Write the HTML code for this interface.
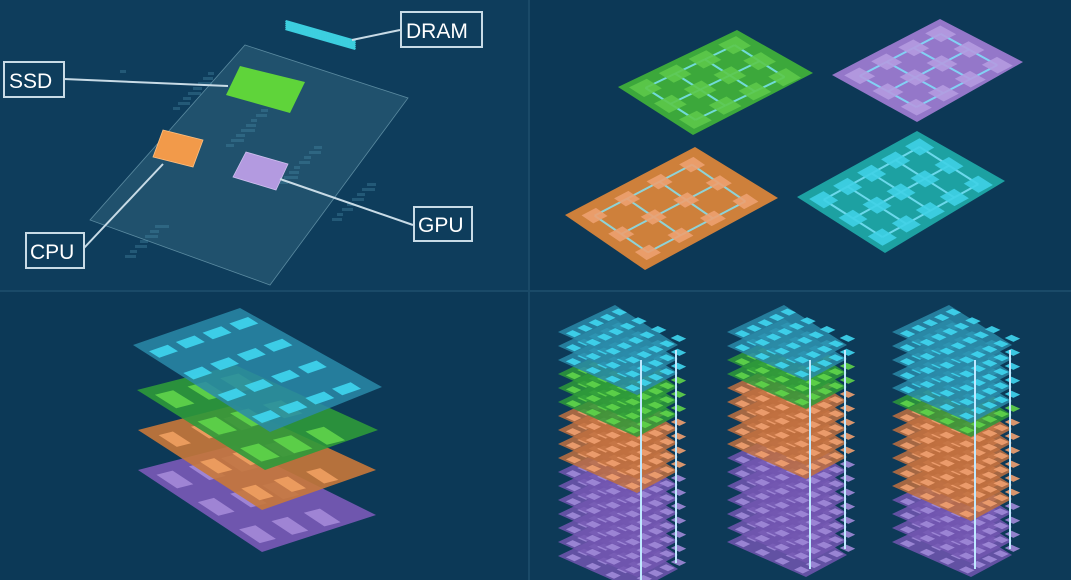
<!DOCTYPE html>
<html><head><meta charset="utf-8"><style>
html,body{margin:0;padding:0;background:#0d3a58;}
svg{display:block}
text{font-family:"Liberation Sans",sans-serif;}
</style></head><body>
<svg id="s" width="1071" height="580" viewBox="0 0 1071 580" xmlns="http://www.w3.org/2000/svg">
<rect width="1071" height="580" fill="#0d3a58"/>
<rect x="0" y="0" width="528" height="290" fill="#0e3d5c"/>
<rect x="530" y="0" width="541" height="290" fill="#0c3856"/>
<rect x="0" y="292" width="528" height="288" fill="#0c3957"/>
<rect x="530" y="292" width="541" height="288" fill="#0d3a58"/>
<line x1="529" y1="0" x2="529" y2="580" stroke="#1a4a68" stroke-width="2"/>
<line x1="0" y1="291" x2="1071" y2="291" stroke="#1a4a68" stroke-width="2"/>
<g id="g"></g>
<g fill="none" stroke="#c8dbe6" stroke-width="2">
<line x1="400" y1="30" x2="352" y2="40"/>
<line x1="64" y1="79" x2="228" y2="86"/>
<line x1="84" y1="248" x2="163" y2="164"/>
<line x1="413" y1="225" x2="280" y2="179"/>
<rect x="401" y="12" width="81" height="35" fill="#0e3d5c"/>
<rect x="4" y="62" width="60" height="35" fill="#0e3d5c"/>
<rect x="26" y="233" width="58" height="35" fill="#0e3d5c"/>
<rect x="414" y="207" width="58" height="34" fill="#0e3d5c"/>
</g>
<g fill="#ffffff" font-size="21">
<text x="406" y="38">DRAM</text>
<text x="9" y="88">SSD</text>
<text x="30" y="259">CPU</text>
<text x="418" y="232">GPU</text>
</g>
</svg>
<script>
const g=document.getElementById('g');let h='';
function poly(pts,fill,op,stroke){h+=`<polygon points="${pts.map(p=>p[0].toFixed(1)+','+p[1].toFixed(1)).join(' ')}" fill="${fill}" fill-opacity="${op}"${stroke?` stroke="${stroke}" stroke-width="0.8"`:''}/>`;}
function P(L,T,B,u,v){return [L[0]+u*(T[0]-L[0])+v*(B[0]-L[0]),L[1]+u*(T[1]-L[1])+v*(B[1]-L[1])];}
function board(L,T,R,B,fill,op,chip,nu,nv,cs,lines){
 poly([L,T,R,B],fill,op);
 if(lines){for(let i=0;i<nu;i++)for(let j=0;j<nv;j++){let a=P(L,T,B,(i+0.5)/nu,(j+0.5)/nv);
  if(i<nu-1){let b=P(L,T,B,(i+1.5)/nu,(j+0.5)/nv);h+=`<line x1="${a[0]}" y1="${a[1]}" x2="${b[0]}" y2="${b[1]}" stroke="#7fe8ff" stroke-width="2" opacity="0.8"/>`;}
  if(j<nv-1){let b=P(L,T,B,(i+0.5)/nu,(j+1.5)/nv);h+=`<line x1="${a[0]}" y1="${a[1]}" x2="${b[0]}" y2="${b[1]}" stroke="#7fe8ff" stroke-width="2" opacity="0.8"/>`;}}}
 for(let i=0;i<nu;i++)for(let j=0;j<nv;j++){let cu=(i+0.5)/nu,cv=(j+0.5)/nv,du=cs[0]/nu,dv=cs[1]/nv;
  poly([P(L,T,B,cu-du,cv-dv),P(L,T,B,cu+du,cv-dv),P(L,T,B,cu+du,cv+dv),P(L,T,B,cu-du,cv+dv)],chip,0.9);}
}
poly([[245,45],[408,98],[270,285],[90,220]],'#3d7088',0.4,'#5a8aa0');
for(let k=0;k<40;k++){let x=120+((k*53)%260),y=70+((k*37)%190);h+=`<rect x="${x}" y="${y}" width="${6+k%9}" height="3" fill="#4a90a8" opacity="0.35"/>`;}
for(let k=0;k<5;k++)poly([[286,20+k*2],[356,40+k*2],[355,42+k*2],[285,22+k*2]],'#3fd6e6',0.95);
poly([[240,66],[305,82],[290,113],[226,95]],'#5fd43a',1);
poly([[163,130],[203,140],[193,167],[153,157]],'#f29a4a',1,'#ffc080');
poly([[246,152],[288,164],[276,190],[233,177]],'#b39ae0',1,'#d0c0f0');
board([618,87],[737,30],[813,73],[693,135],'#3fae3a',0.95,'#5cc84a',4,3,[0.3,0.3],true);
board([832,75],[940,19],[1023,62],[917,122],'#9c7ad0',0.95,'#b49ae0',4,3,[0.28,0.28],true);
board([565,215],[695,147],[778,198],[645,270],'#d9843a',0.95,'#eda070',4,3,[0.22,0.22],true);
board([797,197],[917,131],[1005,181],[885,253],'#1fa6a6',0.95,'#3fd0e6',5,3,[0.3,0.25],true);
board([138,470],[235,445],[376,515],[262,552],'#7a5ab8',0.9,'#a48ad8',3,3,[0.25,0.25]);
board([138,430],[235,405],[376,470],[262,510],'#c8783a',0.9,'#f0a060',3,3,[0.22,0.22]);
board([137,390],[235,365],[378,430],[265,470],'#2e9a3a',0.9,'#5fd44a',3,3,[0.28,0.25]);
board([133,345],[240,308],[382,387],[270,432],'#2a8aa8',0.85,'#3fd6f0',4,4,[0.35,0.15]);
const cols={c:['#2a8aa8','#3fd6f0'],g:['#2e9a3a','#5fd44a'],o:['#c07040','#f0a070'],p:['#7256b0','#a08ad8']};
function tower(dx,seq){let n=seq.length;for(let k=n-1;k>=0;k--){let y=305+k*14;let c=cols[seq[k]];
 board([558+dx,y+27],[615+dx,y],[678+dx,y+40],[637+dx,y+62],c[0],0.85,c[1],5,4,[0.3,0.22]);}
 h+=`<line x1="${641+dx}" y1="360" x2="${641+dx}" y2="${345+n*14}" stroke="#bfe8ff" stroke-width="2"/><line x1="${676+dx}" y1="350" x2="${676+dx}" y2="${325+n*14}" stroke="#bfe8ff" stroke-width="2"/>`;}
tower(0,'cccgggooooppppppp'.split(''));
tower(169,'ccggoooooppppppp'.split(''));
tower(334,'cccccgoooooopppp'.split(''));
g.innerHTML=h;
</script>
</body></html>
